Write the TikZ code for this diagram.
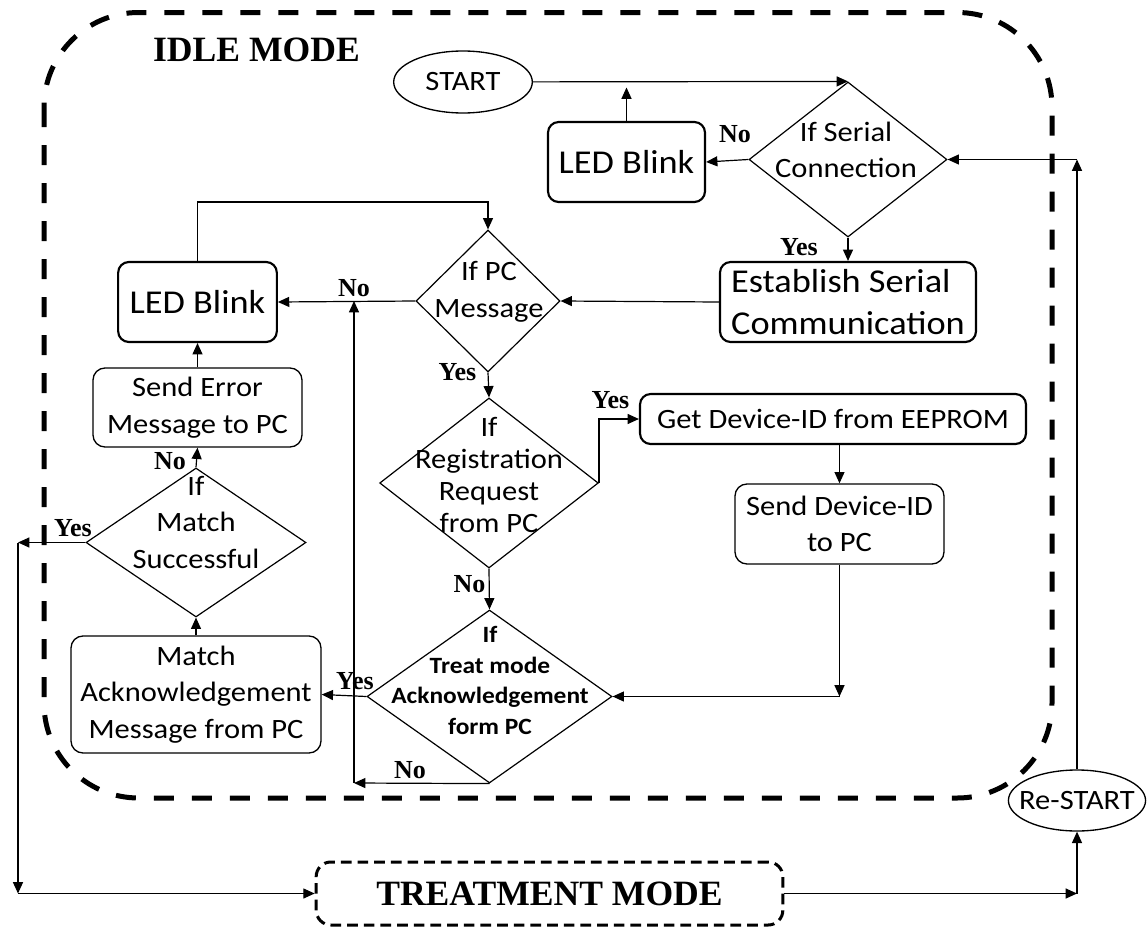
\documentclass[tikz,border=0pt]{standalone}
\usepackage{fontspec}
\setmainfont{Carlito}[FakeStretch=1.09]
\newfontfamily\lblfont{Liberation Serif}
\usetikzlibrary{shapes.geometric,arrows.meta}

\begin{document}
\begin{tikzpicture}[x=7.5pt, y=-7.5pt,
    arr/.style={-{Triangle[length=8.5pt,width=7.5pt]}, line width=0.9pt},
    boxthick/.style={draw, rounded corners=8pt, line width=1.6pt, inner sep=0pt, align=center},
    boxthin/.style={draw, rounded corners=9pt, line width=1pt, inner sep=0pt, align=center},
    decision/.style={draw, diamond, line width=0.9pt, inner sep=0pt},
    term/.style={draw, ellipse, line width=1pt, inner sep=0pt},
    txt/.style={align=center, font=\fontsize{21}{27.5}\selectfont},
    bigtxt/.style={font=\fontsize{25}{31}\selectfont},
    yn/.style={font=\lblfont\bfseries\fontsize{19.5}{19.5}\selectfont},
    modetxt/.style={font=\lblfont\bfseries\fontsize{26.7}{30}\selectfont}]

    \useasboundingbox (0,0) rectangle (114.7,92.8);

    % idle mode frame
    \draw[line width=3.75pt, dash pattern=on 15pt off 13.5pt, rounded corners=71pt]
        (4.4,1.25) rectangle (105.2,79.8);
    \node[modetxt] (idle) at (25.65, 5.0) {IDLE MODE};

    \node[term, txt, minimum width=104pt, minimum height=46.5pt] (start) at (46.3, 8.2) {START};

    \node[decision, minimum width=148.5pt, minimum height=116.25pt] (serial) at (84.8, 15.95) {};
        \node[txt] (serialtxt) at (84.6, 15.0) {If Serial\\Connection};
    \node[boxthick, bigtxt, minimum width=117.75pt, minimum height=60pt] (ledtop) at (62.65, 16.2) {LED Blink};
    \node[boxthick, bigtxt, align=left, minimum width=192pt, minimum height=60pt] (establish) at (84.8, 30.2) {Establish Serial\\Communication};

    \node[decision, minimum width=108pt, minimum height=106.5pt] (pcmsg) at (48.8, 30.1) {};
        \node[txt] (pcmsgtxt) at (48.9, 29.2) {If PC\\Message};
    \node[boxthick, bigtxt, minimum width=119pt, minimum height=60pt] (ledleft) at (19.75, 30.2) {LED Blink};

    \node[decision, minimum width=164pt, minimum height=127.5pt] (reg) at (48.9, 48.3) {};
        \node[txt, font=\fontsize{21}{24.2}\selectfont] (regtxt) at (48.9, 47.5) {If\\Registration\\Request\\from PC};
    \node[boxthick, txt, minimum width=289.5pt, minimum height=37.5pt] (getid) at (83.3, 41.9) {Get Device-ID from EEPROM};
    \node[boxthin, txt, minimum width=156.75pt, minimum height=60pt] (sendid) at (83.95, 52.4) {Send Device-ID\\to PC};

    \node[decision, minimum width=183.75pt, minimum height=129.75pt] (treat) at (48.95, 69.65) {};
        \node[align=center, font=\bfseries\fontsize{17.5}{22.9}\selectfont] (treattxt) at (49.0, 68.05) {If\\Treat mode\\Acknowledgement\\form PC};

    \node[boxthin, txt, minimum width=156.75pt, minimum height=59.25pt] (senderr) at (19.75, 40.75) {Send Error\\Message to PC};
    \node[decision, minimum width=165pt, minimum height=111.75pt] (match) at (19.6, 54.25) {};
        \node[txt] (matchtxt) at (19.6, 52.25) {If\\Match\\Successful};
    \node[boxthin, txt, minimum width=187.5pt, minimum height=87.75pt] (matchack) at (19.6, 69.45) {Match\\Acknowledgement\\Message from PC};

    \node[term, txt, inner xsep=-7pt, minimum width=102pt, minimum height=45.75pt] (restart) at (107.7, 80.05) {Re-START};
    \node[draw, modetxt, rounded corners=11pt, line width=2.25pt, dash pattern=on 8pt off 4.5pt,
        minimum width=350pt, minimum height=47.25pt] (treatment) at (54.95, 89.35) {TREATMENT MODE};

    \coordinate (ledup) at (62.65, 8.75);
    \coordinate (pctop) at (48.8, 20.2);
    \coordinate (idcorner) at (83.95, 69.65);
    \coordinate (nobot) at (35.4, 78.3);
    \coordinate (nojoin) at (35.4, 30.1);
    \coordinate (ycorner) at (1.8, 54.25);
    \coordinate (tcorner) at (1.8, 89.35);
    \coordinate (rcorner) at (107.7, 89.35);
    \coordinate (scorner) at (107.7, 15.95);

    \draw[arr] (start) -- (serial.north);
    \draw[arr] (ledtop.north) -- (ledup);
    \draw[arr] (serial.west) -- (ledtop.east);
        \node[yn] (serialno) at (73.5, 13.45) {No};
    \draw[arr] (serial.south) -- (establish.north);
        \node[yn] (serialyes) at (79.9, 24.75) {Yes};
    \draw[arr] (establish.west) -- (pcmsg.east);
    \draw[arr] (pcmsg.west) -- (ledleft.east);
        \node[yn] (pcmsgno) at (35.4, 28.85) {No};
    \draw[arr] (ledleft.north) |- (pctop) -- (pcmsg.north);
    \draw[arr] (pcmsg.south) -- (reg.north);
        \node[yn] (pcmsgyes) at (45.75, 37.2) {Yes};
    \draw[arr] (reg.east) |- (getid.west);
        \node[yn] (regyes) at (61.05, 40.0) {Yes};
    \draw[arr] (sendid.north |- getid.south) -- (sendid.north);
    \draw[arr] (sendid.south) -- (idcorner);
    \draw[arr] (idcorner) -- (treat.east);
    \draw[arr] (reg.south) -- (treat.north);
        \node[yn] (regno) at (46.95, 58.45) {No};
    \draw[arr] (treat.west) -- (matchack.east);
        \node[yn] (treatyes) at (35.5, 68.15) {Yes};
    \draw[arr] (treat.south) -- (nobot);
    \draw[arr] (nobot) -- (nojoin);
        \node[yn] (treatno) at (41.0, 77.05) {No};
    \draw[arr] (matchack.north) -- (match.south);
    \draw[arr] (match.north) -- (senderr.south);
        \node[yn] (matchno) at (17.0, 46.1) {No};
    \draw[arr] (senderr.north) -- (ledleft.south);
    \draw[arr] (match.west) -- (ycorner);
        \node[yn] (matchyes) at (7.3, 52.85) {Yes};
    \draw[arr] (ycorner) -- (tcorner);
    \draw[arr] (tcorner) -- (treatment.west);
    \draw[arr] (treatment.east) -- (rcorner);
    \draw[arr] (rcorner) -- (restart.south);
    \draw[arr] (restart.north) -- (scorner);
    \draw[arr] (scorner) -- (serial.east);

\end{tikzpicture}
\end{document}
